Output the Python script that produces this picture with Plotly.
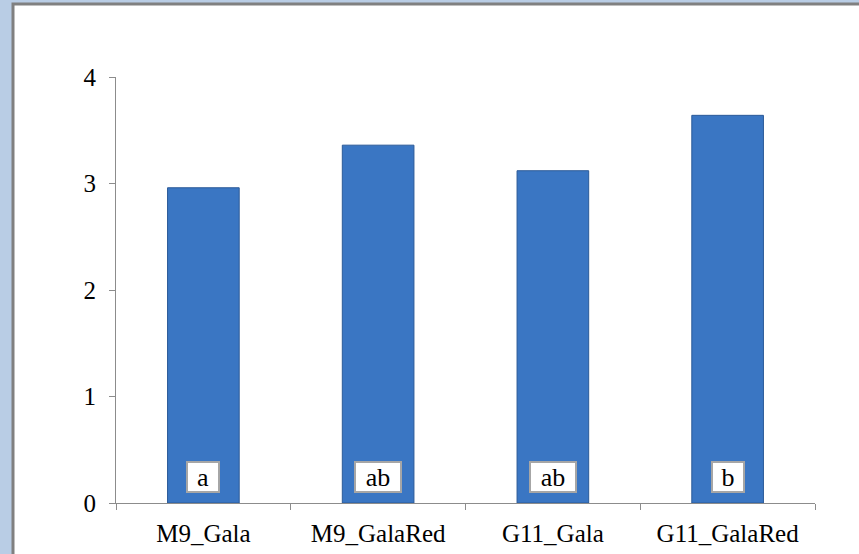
import plotly.graph_objects as go

categories = ["M9_Gala", "M9_GalaRed", "G11_Gala", "G11_GalaRed"]
values = [2.96, 3.36, 3.12, 3.64]
letters = ["a", "ab", "ab", "b"]
y_ticks = [0, 1, 2, 3, 4]

W, H = 859, 554
L, R, T, B = 116, 44, 77, 51
pw, ph = W - L - R, H - T - B
FONT = "Times New Roman, Liberation Serif, serif"

def px_x(p):
    return (p - L) / pw

def px_y(p):
    return (H - B - p) / ph

fig = go.Figure()
fig.add_trace(go.Bar(
    x=categories, y=values, width=0.41,
    marker=dict(color="#3a76c3", line=dict(color="#2b5a98", width=1)),
    hoverinfo="skip",
))

for c, t in zip(categories, letters):
    fig.add_annotation(
        x=c, y=0.24, text=t, showarrow=False,
        font=dict(family=FONT, size=26, color="black"),
        width=14 * len(t) + 14, height=26,
        bgcolor="white", bordercolor="#a6a6a6", borderwidth=2, borderpad=1,
    )

fig.add_shape(type="rect", xref="paper", yref="paper",
              x0=px_x(13), x1=px_x(W + 20), y0=px_y(H + 20), y1=px_y(4),
              fillcolor="white", line=dict(color="#808080", width=3), layer="below")

fig.update_layout(
    width=W, height=H,
    margin=dict(l=L, r=R, t=T, b=B, autoexpand=False),
    paper_bgcolor="#b9cde5", plot_bgcolor="rgba(0,0,0,0)",
    showlegend=False,
    font=dict(family=FONT, size=25, color="black"),
)
fig.update_xaxes(
    showline=True, linecolor="#8c8c8c", linewidth=1, automargin=False,
    ticks="outside", tickson="boundaries", ticklen=6, tickcolor="#8c8c8c",
    showgrid=False, tickfont=dict(family=FONT, size=25), ticklabelstandoff=8,
)
fig.update_yaxes(
    range=[0, 4], tickvals=y_ticks, showline=True, linecolor="#8c8c8c", linewidth=1,
    automargin=False,
    ticks="outside", ticklen=6, tickcolor="#8c8c8c", showgrid=False, zeroline=False,
    tickfont=dict(family=FONT, size=25), ticklabelstandoff=8,
)

fig.write_html("out.html", config={"displayModeBar": False},
               post_script="document.body.style.margin='0';document.body.style.overflow='hidden';")
